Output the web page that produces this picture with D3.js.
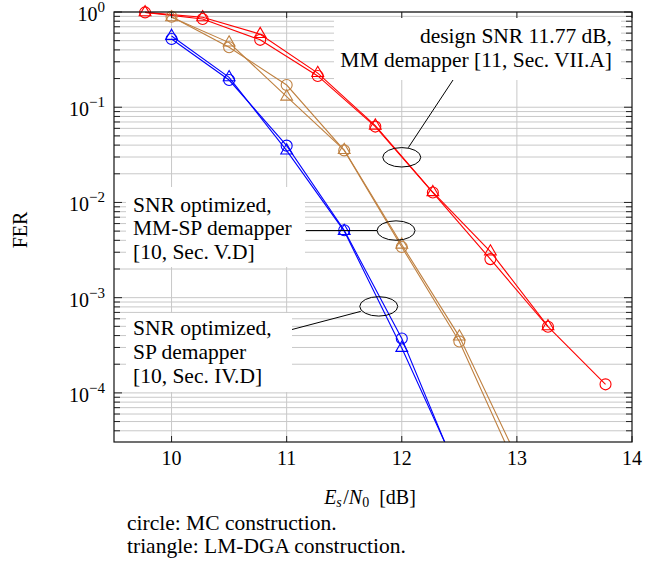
<!DOCTYPE html>
<html>
<head>
<meta charset="utf-8">
<script src="https://cdn.jsdelivr.net/npm/d3@7"></script>
<style>
  body { margin: 0; background: #fff; }
  text { font-family: "Liberation Serif", "Times New Roman", serif; fill: #000; }
</style>
</head>
<body>
<svg id="chart"></svg>
<script>
// FER vs Es/N0
var redX      = [9.77, 10.27, 10.77, 11.27, 11.77, 12.27, 12.77, 13.27, 13.77];
var redCirc   = [0.99, 0.845, 0.51, 0.213, 0.0626, 0.0127, 0.00254, 0.000495, 0.000123];
var redTriX   = [9.77, 10.27, 10.77, 11.27, 11.77, 12.27, 12.77, 13.27];
var redTri    = [0.99, 0.88, 0.585, 0.228, 0.064, 0.0128, 0.00305, 0.0005];

var brownX    = [10, 10.5, 11, 11.5, 12, 12.5, 13];
var brownCirc = [0.89, 0.426, 0.171, 0.0352, 0.0034, 0.000347, 1.6e-5];
var brownTri  = [0.88, 0.477, 0.129, 0.0355, 0.0036, 0.00039, 2.1e-5];

var blueX     = [10, 10.5, 11, 11.5, 12, 12.5];
var blueCirc  = [0.52, 0.193, 0.0395, 0.0051, 0.000373, 1.3e-5];
var blueTri   = [0.56, 0.206, 0.035, 0.005, 0.000296, 1.4e-5];

var xTicks = [10, 11, 12, 13, 14];
var yExps  = [0, -1, -2, -3, -4];

// annotation ellipses (data coords) and their texts
var ellipses = [
  {x: 12.0,  y: 0.0298},
  {x: 11.95, y: 0.00507},
  {x: 11.80, y: 0.00081}
];
var noteDesign = ["design SNR 11.77 dB,", "MM demapper [11, Sec. VII.A]"];
var noteMMSP   = ["SNR optimized,", "MM-SP demapper", "[10, Sec. V.D]"];
var noteSP     = ["SNR optimized,", "SP demapper", "[10, Sec. IV.D]"];
var footnotes  = ["circle: MC construction.", "triangle: LM-DGA construction."];

var W = 657, H = 564;
var margin = {top: 12, right: 25, bottom: 122, left: 114},
    width = W - margin.left - margin.right,
    height = H - margin.top - margin.bottom;

var svg = d3.select("#chart").attr("width", W).attr("height", H);

var x = d3.scaleLinear().domain([9.5, 14]).range([0, width]);
var y = d3.scaleLog().domain([3.05e-5, 1]).range([height, 0]);

var g = svg.append("g")
    .attr("transform", "translate(" + margin.left + "," + margin.top + ")");

// minor/major y values
var yAll = [];
for (var e = -5; e <= 0; e++) {
  for (var k = 1; k <= 9; k++) {
    var v = k * Math.pow(10, e);
    if (v >= y.domain()[0] && v <= 1) yAll.push({v: v, major: k === 1});
  }
}

// grid
g.selectAll(".hgrid").data(yAll).enter().append("line")
    .attr("class", "hgrid")
    .attr("x1", 0).attr("x2", width)
    .attr("y1", function(d) { return y(d.v); })
    .attr("y2", function(d) { return y(d.v); })
    .attr("stroke", "#c8c8c8").attr("stroke-width", 1);

g.selectAll(".vgrid").data(xTicks.slice(0, -1)).enter().append("line")
    .attr("class", "vgrid")
    .attr("y1", 0).attr("y2", height)
    .attr("x1", function(d) { return x(d); })
    .attr("x2", function(d) { return x(d); })
    .attr("stroke", "#c8c8c8").attr("stroke-width", 1);

// data
g.append("clipPath").attr("id", "clip")
  .append("rect").attr("x", 0).attr("y", -8).attr("width", width).attr("height", height + 8);

var series = [
  {xs: redX,    ys: redCirc,   color: "#ff0000", mark: "circle"},
  {xs: redTriX, ys: redTri,    color: "#ff0000", mark: "triangle"},
  {xs: brownX,  ys: brownCirc, color: "#bf8040", mark: "circle"},
  {xs: brownX,  ys: brownTri,  color: "#bf8040", mark: "triangle"},
  {xs: blueX,   ys: blueCirc,  color: "#0000ff", mark: "circle"},
  {xs: blueX,   ys: blueTri,   color: "#0000ff", mark: "triangle"}
];

var line = d3.line()
    .x(function(d) { return x(d[0]); })
    .y(function(d) { return y(d[1]); });

var dataG = g.append("g").attr("clip-path", "url(#clip)");

series.forEach(function(s) {
  var pts = s.xs.map(function(xv, i) { return [xv, s.ys[i]]; });
  dataG.append("path")
      .attr("d", line(pts))
      .attr("fill", "none")
      .attr("stroke", s.color)
      .attr("stroke-width", 1.1);

  var shown = pts.filter(function(p) { return p[1] >= y.domain()[0]; });
  if (s.mark === "circle") {
    dataG.selectAll(null).data(shown).enter().append("circle")
        .attr("cx", function(d) { return x(d[0]); })
        .attr("cy", function(d) { return y(d[1]); })
        .attr("r", 5.5)
        .attr("fill", "none")
        .attr("stroke", s.color)
        .attr("stroke-width", 1.1);
  } else {
    var tri = d3.symbol().type(d3.symbolTriangle).size(60);
    dataG.selectAll(null).data(shown).enter().append("path")
        .attr("d", tri)
        .attr("transform", function(d) { return "translate(" + x(d[0]) + "," + y(d[1]) + ")"; })
        .attr("fill", "none")
        .attr("stroke", s.color)
        .attr("stroke-width", 1.1);
  }
});

// annotation boxes
function noteBox(x0, y0, w, h) {
  g.append("rect")
      .attr("x", x0 - margin.left).attr("y", y0 - margin.top)
      .attr("width", w).attr("height", h)
      .attr("fill", "#fff");
}
noteBox(334, 18, 287, 62);
noteBox(126, 187, 179, 80);
noteBox(126, 313, 166, 79);

function noteText(lines, xPos, yFirst, anchor) {
  var t = svg.append("text")
      .attr("font-size", 21.5)
      .attr("text-anchor", anchor);
  lines.forEach(function(s, i) {
    t.append("tspan").attr("x", xPos).attr("y", yFirst + i * 23.8).text(s);
  });
}
noteText(noteDesign, 612, 43, "end");
noteText(noteMMSP, 133, 211.5, "start");
noteText(noteSP, 133, 335, "start");

// ellipses and pointers
var ex = ellipses.map(function(d) { return x(d.x); }),
    ey = ellipses.map(function(d) { return y(d.y); });

g.selectAll(".note-ell").data(ellipses).enter().append("ellipse")
    .attr("class", "note-ell")
    .attr("cx", function(d) { return x(d.x); })
    .attr("cy", function(d) { return y(d.y); })
    .attr("rx", 19).attr("ry", 9.7)
    .attr("fill", "none").attr("stroke", "#000").attr("stroke-width", 1);

var pointers = [
  [453 - margin.left, 80 - margin.top, ex[0] + 6.5, ey[0] - 9.6],
  [306 - margin.left, ey[1], ex[1] - 19, ey[1]],
  [292 - margin.left, 329.5 - margin.top, ex[2] - 18, ey[2] + 5]
];
g.selectAll(".ptr").data(pointers).enter().append("line")
    .attr("class", "ptr")
    .attr("x1", function(d) { return d[0]; }).attr("y1", function(d) { return d[1]; })
    .attr("x2", function(d) { return d[2]; }).attr("y2", function(d) { return d[3]; })
    .attr("stroke", "#000").attr("stroke-width", 1);

// frame and ticks
var tickG = g.append("g").attr("stroke", "#222").attr("stroke-width", 1);
yAll.forEach(function(d) {
  var len = d.major ? 8 : 6;
  var yy = y(d.v);
  tickG.append("line").attr("x1", 0).attr("x2", len).attr("y1", yy).attr("y2", yy);
  tickG.append("line").attr("x1", width - len).attr("x2", width).attr("y1", yy).attr("y2", yy);
});
xTicks.forEach(function(d) {
  var xx = x(d);
  tickG.append("line").attr("x1", xx).attr("x2", xx).attr("y1", height).attr("y2", height - 6);
  tickG.append("line").attr("x1", xx).attr("x2", xx).attr("y1", 0).attr("y2", 6);
});

g.append("rect")
    .attr("x", 0).attr("y", 0).attr("width", width).attr("height", height)
    .attr("fill", "none").attr("stroke", "#111").attr("stroke-width", 1.2);

// tick labels
g.selectAll(".xlab").data(xTicks).enter().append("text")
    .attr("class", "xlab")
    .attr("x", function(d) { return x(d); })
    .attr("y", height + 23)
    .attr("text-anchor", "middle")
    .attr("font-size", 20)
    .text(function(d) { return d; });

var ylab = g.selectAll(".ylab").data(yExps).enter().append("text")
    .attr("class", "ylab")
    .attr("x", -9)
    .attr("y", function(d) { return y(Math.pow(10, d)) + 9; })
    .attr("text-anchor", "end")
    .attr("font-size", 20);
ylab.append("tspan").text("10");
ylab.append("tspan")
    .attr("dy", -9)
    .attr("font-size", 15)
    .text(function(d) { return d === 0 ? "0" : "\u2212" + (-d); });

// axis titles
svg.append("text")
    .attr("transform", "translate(27," + (margin.top + height / 2 + 3) + ") rotate(-90)")
    .attr("text-anchor", "middle")
    .attr("font-size", 20)
    .text("FER");

var xt = svg.append("text")
    .attr("x", 370).attr("y", 504)
    .attr("text-anchor", "middle")
    .attr("font-size", 20);
xt.append("tspan").attr("font-style", "italic").text("E");
xt.append("tspan").attr("font-style", "italic").attr("font-size", 14).attr("dy", 3).text("s");
xt.append("tspan").attr("dy", -3).attr("dx", 1.5).text("/");
xt.append("tspan").attr("font-style", "italic").text("N");
xt.append("tspan").attr("font-size", 14).attr("dy", 3).text("0");
xt.append("tspan").attr("dy", -3).text("\u2002[dB]");

// footnotes
svg.selectAll(".foot").data(footnotes).enter().append("text")
    .attr("class", "foot")
    .attr("x", 127)
    .attr("y", function(d, i) { return 530 + i * 23.2; })
    .attr("font-size", 21.5)
    .text(function(d) { return d; });
</script>
</body>
</html>
